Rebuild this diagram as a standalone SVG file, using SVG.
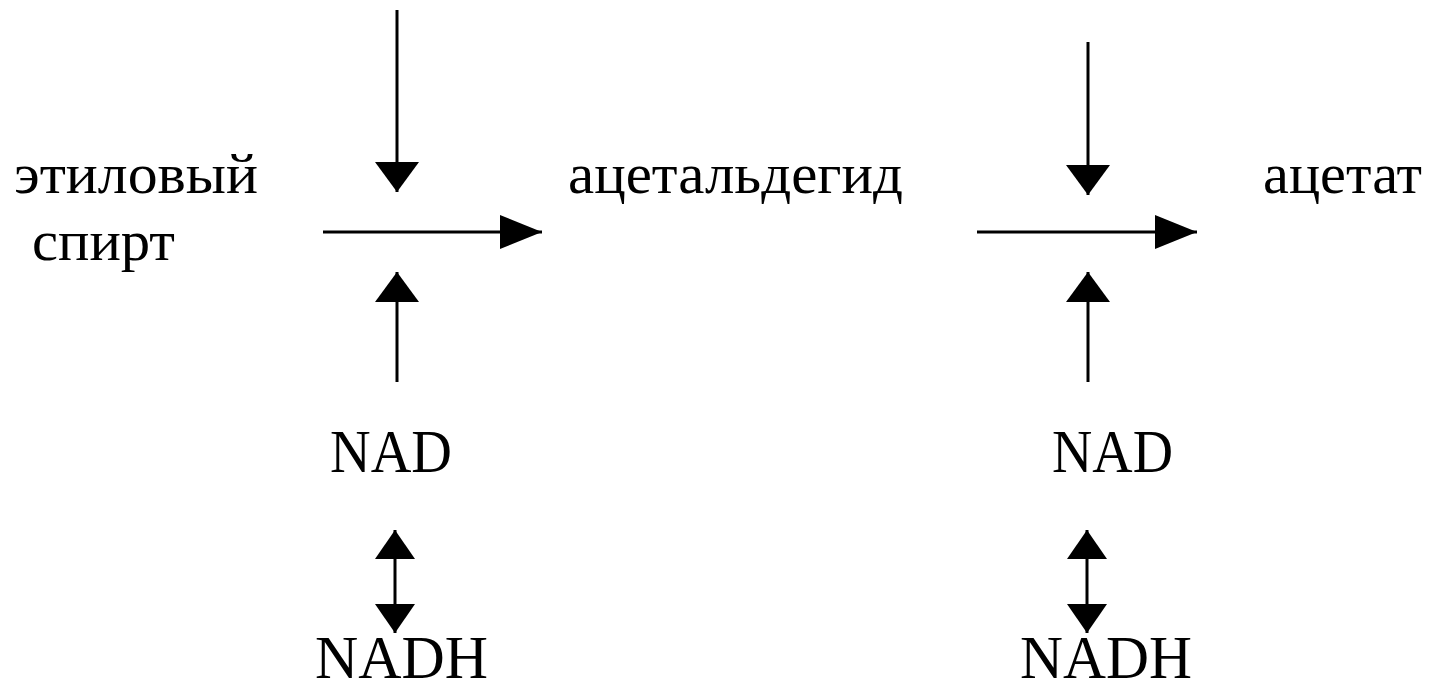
<svg xmlns="http://www.w3.org/2000/svg" width="1435" height="686" viewBox="0 0 1435 686">
  <defs>
    <style>
      .lbl { font-family: "Liberation Serif", "DejaVu Serif", serif; fill: #000; }
      .ru { font-size: 58px; }
      .en { font-size: 61px; }
      .ln { stroke: #000; stroke-width: 3; fill: none; }
    </style>
    <marker id="headV" viewBox="0 0 30 44" refX="30" refY="22" markerWidth="30" markerHeight="44" markerUnits="userSpaceOnUse" orient="auto-start-reverse">
      <path d="M0,0 L30,22 L0,44 Z" fill="#000"/>
    </marker>
    <marker id="headH" viewBox="0 0 42 34" refX="42" refY="17" markerWidth="42" markerHeight="34" markerUnits="userSpaceOnUse" orient="auto-start-reverse">
      <path d="M0,0 L42,17 L0,34 Z" fill="#000"/>
    </marker>
    <marker id="headD" viewBox="0 0 29 40" refX="29" refY="20" markerWidth="29" markerHeight="40" markerUnits="userSpaceOnUse" orient="auto-start-reverse">
      <path d="M0,0 L29,20 L0,40 Z" fill="#000"/>
    </marker>
  </defs>
  <rect width="1435" height="686" fill="#fff"/>

  <g id="connectors">
    <line class="ln" x1="397" y1="10" x2="397" y2="192" marker-end="url(#headV)"/>
    <line class="ln" x1="323" y1="232" x2="542" y2="232" marker-end="url(#headH)"/>
    <line class="ln" x1="397" y1="382" x2="397" y2="272" marker-end="url(#headV)"/>
    <line class="ln" x1="395" y1="530" x2="395" y2="633" marker-start="url(#headD)" marker-end="url(#headD)"/>
    <line class="ln" x1="1088" y1="42" x2="1088" y2="195" marker-end="url(#headV)"/>
    <line class="ln" x1="977" y1="232" x2="1197" y2="232" marker-end="url(#headH)"/>
    <line class="ln" x1="1088" y1="382" x2="1088" y2="272" marker-end="url(#headV)"/>
    <line class="ln" x1="1087" y1="530" x2="1087" y2="633" marker-start="url(#headD)" marker-end="url(#headD)"/>
  </g>

  <g id="ethanol">
    <text class="lbl ru" x="14" y="193" textLength="244" lengthAdjust="spacingAndGlyphs">этиловый</text>
    <text class="lbl ru" x="32" y="260" textLength="143" lengthAdjust="spacingAndGlyphs">спирт</text>
  </g>
  <g id="acetaldehyde">
    <text class="lbl ru" x="568" y="193" textLength="335" lengthAdjust="spacingAndGlyphs">ацетальдегид</text>
  </g>
  <g id="acetate">
    <text class="lbl ru" x="1263" y="193" textLength="159" lengthAdjust="spacingAndGlyphs">ацетат</text>
  </g>
  <g id="nad1">
    <text class="lbl en" x="330" y="472" textLength="122" lengthAdjust="spacingAndGlyphs">NAD</text>
  </g>
  <g id="nadh1">
    <text class="lbl en" x="315" y="678" textLength="173" lengthAdjust="spacingAndGlyphs">NADH</text>
  </g>
  <g id="nad2">
    <text class="lbl en" x="1052" y="472" textLength="121" lengthAdjust="spacingAndGlyphs">NAD</text>
  </g>
  <g id="nadh2">
    <text class="lbl en" x="1020" y="678" textLength="172" lengthAdjust="spacingAndGlyphs">NADH</text>
  </g>
</svg>
